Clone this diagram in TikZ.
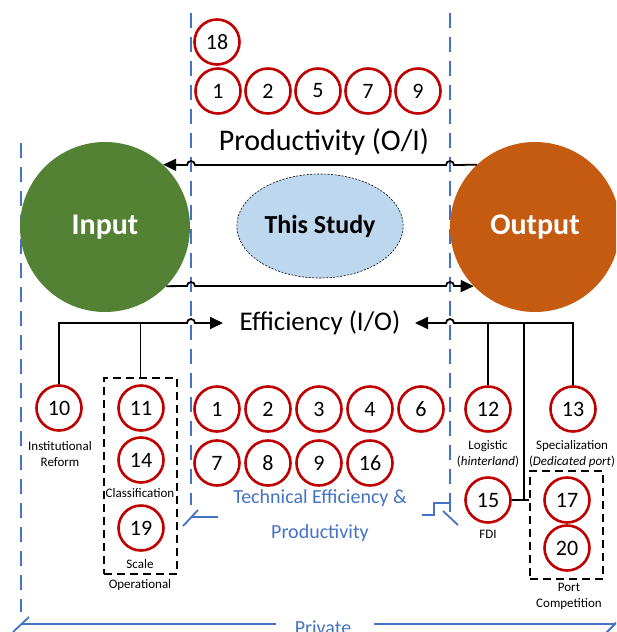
\documentclass[tikz,border=0pt]{standalone}
\usepackage{fontspec}
\setmainfont{Carlito}
\usetikzlibrary{arrows.meta,shapes.geometric}

\definecolor{cred}{HTML}{C00000}
\definecolor{cgreen}{HTML}{548235}
\definecolor{corange}{HTML}{C55A11}
\definecolor{cblue}{HTML}{4472C4}
\definecolor{clight}{HTML}{BDD7EE}

\tikzset{
  num/.style={circle, draw=cred, line width=2.6pt, minimum size=45pt, inner sep=0pt,
    font=\fontsize{22}{24}\selectfont},
  small/.style={font=\fontsize{13}{16}\selectfont, align=center, inner sep=0pt},
  conn/.style={line width=1.8pt, draw=black},
  tip/.style={-{Triangle[length=13pt,width=12pt]}},
  guide/.style={draw=cblue, line width=1.8pt, dash pattern=on 15pt off 9pt},
  bracket/.style={draw=cblue, line width=1.8pt},
  groupbox/.style={draw=black, line width=2pt, dash pattern=on 8pt off 5pt,
    rectangle, inner sep=0pt},
  bigcirc/.style={circle, minimum size=170pt, inner sep=0pt, text=white,
    font=\fontsize{30}{32}\selectfont\bfseries},
  heading/.style={font=\fontsize{30}{32}\selectfont, inner sep=0pt},
  bluetext/.style={text=cblue, font=\fontsize{20}{22}\selectfont, inner sep=0pt},
}

\begin{document}
\begin{tikzpicture}[x=1pt,y=1pt]
\useasboundingbox (0,0) rectangle (616,-632);
\clip (0,0) rectangle (616,-632);

% blue guide lines and brackets
\draw[guide] (191,-13) -- (191,-505);
\draw[guide] (450,-13) -- (450,-493);
\draw[guide] (21,-143) -- (21,-612);
\draw[bracket] (183,-526) -- (198,-510);
\draw[bracket] (191,-517) -- (218,-517);
\draw[bracket] (422,-515) -- (434,-515) -- (434,-503) -- (450,-503);
\draw[bracket] (450,-493) -- (450,-512);
\draw[bracket] (443,-511) -- (458,-525);
\draw[bracket] (21,-624) -- (276,-624);
\draw[bracket] (374,-624) -- (616,-624);
\draw[bracket] (13,-632) -- (29,-617);
\draw[bracket] (606,-633) -- (618,-621);

% main circles and the central ellipse
\node[bigcirc, fill=cgreen] (in) at (105,-227) {Input};
\node[bigcirc, fill=corange] (out) at (535,-227) {Output};
\node[ellipse, draw=black, line width=0.6pt, dash pattern=on 2pt off 1.5pt,
      fill=clight, minimum width=156pt, minimum height=104pt,
      font=\fontsize{26}{28}\selectfont\bfseries] (study) at (320,-226) {This Study};

% headings
\node[heading] (prod) at (324,-142) {Productivity (O/I)};
\node[heading, font=\fontsize{27}{30}\selectfont] (eff) at (320,-323) {Efficiency (I/O)};
\coordinate (effTipL) at (223,-323);
\coordinate (effTipR) at (415,-323);

% productivity group
\node[num] (t18) at (217,-42) {18};
\node[num] (t1) at (218,-91) {1};
\node[num] (t2) at (268,-91) {2};
\node[num] (t5) at (318,-91) {5};
\node[num] (t7) at (368,-91) {7};
\node[num] (t9) at (418,-91) {9};

% technical efficiency & productivity group
\node[num] (m1) at (217,-409) {1};
\node[num] (m2) at (268,-409) {2};
\node[num] (m3) at (319,-409) {3};
\node[num] (m4) at (370,-409) {4};
\node[num] (m6) at (421,-409) {6};
\node[num] (m7) at (217,-463) {7};
\node[num] (m8) at (268,-463) {8};
\node[num] (m9) at (319,-463) {9};
\node[num] (m16) at (370,-463) {16};
\node[bluetext] (te1) at (320,-498) {Technical Efficiency \&};
\node[bluetext] (te2) at (320,-533) {Productivity};
\node[bluetext, anchor=base] (priv) at (323,-634) {Private};

% input side
\node[groupbox, minimum width=73pt, minimum height=196pt] (boxL) at (140.5,-476) {};
\node[num] (c10) at (59,-408) {10};
\node[num] (c11) at (141,-408) {11};
\node[num] (c14) at (141,-460) {14};
\node[num] (c19) at (141,-528) {19};
\node[small] (l10) at (60,-454) {Institutional\\Reform};
\node[small] (l14) at (140,-493) {Classification};
\node[small] (l19) at (140,-564) {Scale};
\node[small] (lop) at (140,-585) {Operational};

% output side
\node[groupbox, minimum width=73pt, minimum height=108pt] (boxR) at (566.5,-525) {};
\node[num] (c12) at (488,-409) {12};
\node[num] (c13) at (573,-409) {13};
\node[num] (c15) at (488,-500) {15};
\node[num] (c17) at (567,-500) {17};
\node[num] (c20) at (567,-548) {20};
\node[small] (l12) at (488,-454) {Logistic\\(\textit{hinterland})};
\node[small] (l13) at (572,-454) {Specialization\\(\textit{Dedicated port})};
\node[small] (l15) at (488,-534) {FDI};
\node[small] (l17) at (569,-596) {Port\\Competition};

% productivity and efficiency arrows, hopping over the guide lines
\draw[conn,tip] (out.133) -- (454,-165) arc[start angle=0,end angle=180,radius=4]
  -- (195,-165) arc[start angle=0,end angle=180,radius=4] -- (in.47);
\draw[conn,tip] (in.-44) -- (187,-286) arc[start angle=180,end angle=0,radius=4]
  -- (446,-286) arc[start angle=180,end angle=0,radius=4] -- (out.224);

\draw[conn,tip] (c10.north) |- (187,-323) arc[start angle=180,end angle=0,radius=4] -- (effTipL);
\draw[conn] (boxL.north) -- (boxL.north |- eff);
\draw[conn,tip] (c13.north) |- (454,-323) arc[start angle=0,end angle=180,radius=4] -- (effTipR);
\draw[conn] (c12.north) -- (c12.north |- eff);
\coordinate (jr) at (524,-323);
\draw[conn] (jr) -- (jr |- c15.east);
\draw[conn] (c15.east) -- (boxR.west |- c15.east);
\end{tikzpicture}
\end{document}
